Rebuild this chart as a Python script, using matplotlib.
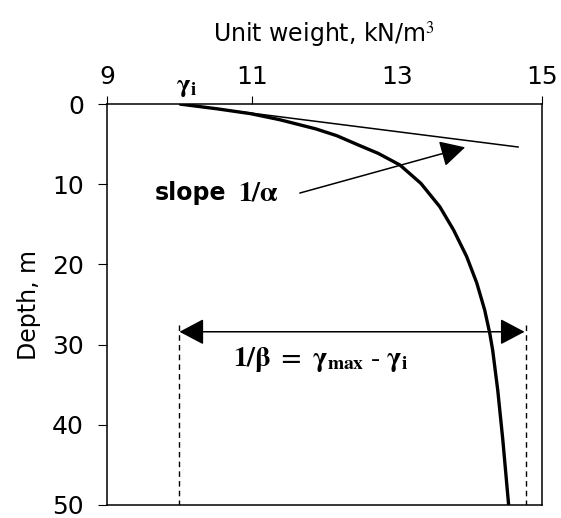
import numpy as np
import matplotlib.pyplot as plt

# =========================
# Data
# =========================

depth_m = [0, 0.6, 1.2, 1.95, 3.1, 3.95, 5.2, 6.15, 7.6, 9.9, 12.8, 15.7, 19.0,
           22.3, 25.7, 28.6, 30.7, 35.7, 41.9, 50]
unit_weight = [10.0, 10.52, 10.98, 11.38, 11.88, 12.17, 12.49, 12.74, 13.04, 13.33, 13.59,
               13.78, 13.96, 14.1, 14.21, 14.28, 14.32, 14.39, 14.46, 14.54]

gamma_i = 10.0
gamma_max = 14.78
tangent_x = [10.0, 14.67]
tangent_z = [0.0, 5.36]
arrow_depth = 28.4

x_ticks = [9, 11, 13, 15]
y_ticks = [0, 10, 20, 30, 40, 50]

plt.rcParams["mathtext.fontset"] = "stix"

fig = plt.figure(figsize=(5.61, 5.18), dpi=100)
ax = fig.add_axes([0.1907, 0.0251, 0.7754, 0.7741])

# main curve
ax.plot(unit_weight, depth_m, color="black", linewidth=2.4,
        solid_joinstyle="round", solid_capstyle="butt")
# initial tangent
ax.plot(tangent_x, tangent_z, color="black", linewidth=1.1)

# dashed limits
for gx in (gamma_i, gamma_max):
    ax.plot([gx, gx], [arrow_depth - 0.8, 50], color="black",
            linewidth=1.0, linestyle=(0, (4, 3)))

# double arrow for 1/beta
ax.annotate("", xy=(gamma_max - 0.02, arrow_depth), xytext=(gamma_i, arrow_depth),
            arrowprops=dict(arrowstyle="<|-|>,head_length=0.85,head_width=0.45",
                            mutation_scale=18, color="black", linewidth=1.1,
                            shrinkA=0, shrinkB=0))
ax.text(11.95, 31.9, r"$\mathbf{1/\beta\ =\ \gamma_{max}\ \text{-}\ \gamma_{i}}$",
        fontsize=20, ha="center", va="center")

# slope arrow
ax.annotate("", xy=(13.94, 5.4), xytext=(11.66, 11.1),
            arrowprops=dict(arrowstyle="-|>,head_length=0.85,head_width=0.45",
                            mutation_scale=18, color="black", linewidth=1.1,
                            shrinkA=0, shrinkB=0))
ax.text(9.66, 11.1, "slope", fontsize=17, fontweight="bold", family="DejaVu Sans",
        ha="left", va="center")
ax.text(10.81, 11.0, r"$\mathbf{1/\alpha}$", fontsize=20, ha="left", va="center")

# gamma_i label above the axis
ax.text(10.1, -2.2, r"$\mathbf{\gamma_{i}}$", fontsize=19, ha="center", va="center",
        clip_on=False)

ax.set_xlim(9, 15)
ax.set_ylim(50, 0)
ax.xaxis.set_ticks_position("top")
ax.xaxis.set_label_position("top")
ax.set_xticks(x_ticks)
ax.set_yticks(y_ticks)
ax.tick_params(axis="x", direction="out", length=6, width=0.8, labelsize=18, pad=5)
ax.tick_params(axis="y", direction="out", length=6.5, width=0.8, labelsize=18, pad=10)
ax.xaxis.get_major_ticks()[2].tick2line.set_visible(False)

ax.set_xlabel("Unit weight, kN/m$^3$", fontsize=17, labelpad=16)
ax.set_ylabel("Depth, m", fontsize=17, labelpad=8)

for s in ax.spines.values():
    s.set_linewidth(1.1)

fig.savefig("out.png", dpi=100)
